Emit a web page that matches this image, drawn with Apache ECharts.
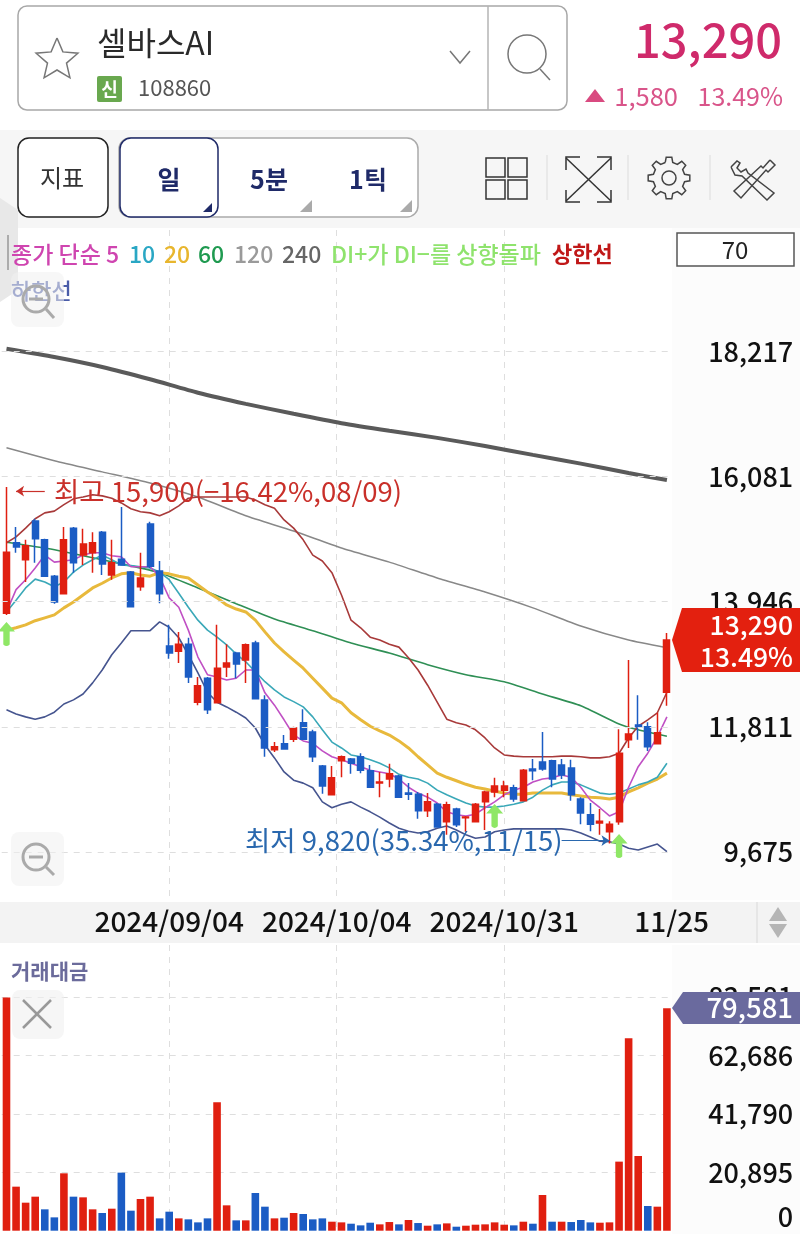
<!DOCTYPE html>
<html><head><meta charset="utf-8">
<style>html,body{margin:0;padding:0;background:#fff;overflow:hidden}#c{width:800px;height:1234px}</style>
<script src="https://cdn.jsdelivr.net/npm/echarts@6/dist/echarts.min.js"></script>
</head><body><div id="c"></div>
<script>
const candles = [ // open, close, low, high
[13750,14790,13720,15900],[14950,14880,14780,15220],[14660,14900,14280,15000],[15320,15020,14610,15360],[15000,14380,14380,15020],
[14380,13940,13910,14400],[14080,15000,14080,15220],[15200,14610,14440,15220],[14740,14930,14570,15190],[14780,14950,14440,15130],
[15130,14590,14400,15150],[14400,14610,14320,15000],[14670,14570,14570,15560],[14450,13860,13860,14470],[14200,14350,14130,14780],
[15270,14550,14520,15310],[14470,14080,13920,14640],[13190,13070,12970,13550],[13100,13220,12900,13430],[13220,12660,12560,13330],
[12230,12510,12180,12660],[12640,12100,12030,12660],[12220,12810,12220,13550],[12830,12900,12660,13220],[13070,12880,12640,13090],
[12950,13210,12560,13230],[13240,12290,12290,13280],[12270,11450,11300,12350],[11420,11470,11380,11550],[11520,11430,11430,11670],
[11600,11790,11550,11810],[11880,11600,11600,12110],[11720,11300,11210,11760],[11140,10800,10670,11160],[10650,10940,10650,11140],
[11230,11300,10950,11320],[11260,11190,11010,11280],[11300,11070,11020,11360],[11060,10780,10780,11160],[10850,10870,10610,11040],
[10920,11010,10780,11180],[10970,10610,10600,10990],[10680,10660,10560,10850],[10660,10380,10240,10700],[10380,10530,10270,10680],
[10490,10100,10100,10510],[10190,10480,9970,10530],[10410,10140,10100,10430],[10260,10270,10020,10290],[10190,10490,10190,10510],
[10530,10700,10050,10720],[10700,10800,10610,10940],[10730,10800,10610,10890],[10770,10580,10530,10820],[10550,11070,10550,11090],
[11090,11060,10900,11260],[11210,11090,11060,11720],[11230,10920,10780,11250],[11160,10990,10920,11260],[11110,10650,10550,11250],
[10580,10340,10150,10610],[10310,10150,10030,10510],[10170,10200,9970,10410],[10020,10150,9820,10200],[10190,11360,10140,11770],
[11590,11690,11450,12950],[11840,11810,11590,12350],[11810,11470,11400,11890],[11520,11710,11520,12050],[12400,13290,12170,13410]];
const ma5 = [13770,14150,14320,14520,14740,14620,14640,14660,14740,14780,14780,14730,14710,14540,14540,14540,14370,14010,13850,13460,13000,12700,12660,12610,12640,12780,12780,12390,12180,11930,11670,11570,11530,11400,11300,11250,11190,11130,11070,11040,11010,10920,10780,10680,10610,10510,10360,10310,10290,10320,10430,10530,10650,10730,10780,10870,10920,10940,10990,10950,10780,10560,10430,10290,10360,10780,11130,11360,11640,11980];
const ma10 = [13770,13970,14180,14330,14280,14200,14280,14450,14570,14660,14740,14660,14570,14560,14540,14520,14450,14320,14090,13850,13630,13460,13340,13210,13050,12920,12750,12580,12440,12320,12240,12150,11980,11760,11550,11450,11330,11300,11250,11190,11110,11000,10950,10920,10850,10730,10650,10580,10510,10460,10440,10440,10460,10490,10530,10610,10730,10820,10870,10870,10820,10750,10680,10660,10680,10750,10820,10870,10950,11190];
const ma20 = [13460,13500,13550,13620,13670,13720,13840,13940,14060,14180,14260,14350,14420,14440,14400,14380,14440,14420,14380,14350,14230,14110,14010,13890,13820,13770,13630,13430,13240,13090,12950,12810,12640,12470,12300,12220,12050,11930,11820,11740,11670,11570,11450,11300,11160,11020,10950,10890,10830,10780,10750,10710,10680,10660,10660,10680,10680,10680,10680,10650,10630,10610,10600,10580,10610,10700,10770,10850,10920,11020];
const ma60Idx = [0,4,8,12,16,20,24,28,32,36,40,44,48,52,56,60,64,66,69];
const ma60 = [14960,14860,14730,14590,14440,14180,13910,13650,13450,13240,13070,12870,12700,12580,12370,12170,11860,11760,11650];
const ma120Idx = [0,5,10,15,20,25,30,35,40,45,50,55,60,65,69];
const ma120 = [16570,16350,16160,15970,15730,15410,15150,14860,14620,14350,14110,13840,13530,13290,13160];
const ma240Idx = [0,5,10,15,20,25,30,35,40,45,50,55,60,65,69];
const ma240 = [18260,18120,17950,17740,17510,17320,17150,16990,16860,16740,16600,16450,16300,16140,16020];
const upperBand = [14950,15050,15200,15360,15460,15490,15600,15700,15730,15770,15750,15710,15630,15530,15480,15460,15410,15480,15580,15710,15730,15730,15730,15730,15730,15730,15680,15600,15540,15340,15200,15000,14740,14640,14440,14060,13630,13500,13340,13290,13220,13170,12990,12780,12520,12230,11940,11880,11840,11760,11620,11450,11330,11310,11300,11300,11300,11300,11310,11310,11300,11280,11280,11300,11360,11620,11820,11930,12050,12400];
const lowerBand = [12100,12030,11980,11940,11980,12060,12200,12270,12370,12560,12780,13040,13240,13450,13450,13450,13600,13510,13330,13040,12730,12400,12230,12150,12060,11960,11790,11500,11280,11040,10900,10850,10770,10530,10430,10490,10530,10440,10360,10270,10170,10080,10030,10000,10020,10080,10120,10050,9970,9910,9930,10020,10050,10070,10070,10070,10070,10070,10070,10050,10000,9930,9860,9850,9810,9740,9710,9760,9810,9680];
const volume = [83400,15750,10020,12170,7640,4770,20520,12170,11930,7640,6320,7870,20760,7160,11330,12170,4410,6800,4410,4060,2980,4410,45930,9070,3700,3700,13480,8590,4410,4650,6320,5970,4060,4410,3220,2980,2500,1910,2860,2270,3100,2270,3820,2740,1790,2270,2620,1430,1790,2150,2270,2980,2150,1910,3220,2500,12770,3220,3220,3100,3820,2980,2860,2980,24700,68840,26720,8830,8590,79581];
const volumeRose = [1,1,1,1,0,0,1,0,1,1,0,1,0,0,1,1,0,0,1,0,0,0,1,1,0,1,0,0,1,0,1,0,0,0,1,1,0,0,0,1,1,0,1,0,1,0,1,0,1,1,1,1,1,0,1,0,1,0,1,0,0,0,1,1,1,1,1,0,1,1];
const priceTicks = [9675,11811,13946,16081,18217];
const volumeTicks = [0,20895,41790,62686,83581];
const dateTicks = ['','2024/09/04','2024/10/04','2024/10/31','11/25'];
const signalIdx = [0,51,64];
const signalVal = [13394,10290,9777];

const UP='#e01f10', DOWN='#1b5cc4', F='"Noto Sans CJK KR","Noto Sans",sans-serif';
const cats = candles.map((_,i)=>String(i));
const pairs=(idx,v)=>idx.map((x,k)=>[x,v[k]]);
const fmt=v=>Number(v).toLocaleString('en-US');
const T=(x,y,text,size,fill,o={})=>({type:'text',x,y,z:o.z||60,silent:true,style:{text,fill,font:`${o.w||'normal'} ${size}px ${F}`,align:o.a||'left',verticalAlign:'middle'}});
const R=(x,y,w,h,o={})=>({type:'rect',z:o.z||60,silent:true,shape:{x,y,width:w,height:h,r:o.r||0},style:{fill:o.fill||'transparent',stroke:o.stroke||null,lineWidth:o.lw||1.5}});
const P=(pts,o={})=>({type:o.fill?'polygon':'polyline',z:o.z||60,silent:true,shape:{points:pts},style:{fill:o.fill||null,stroke:o.stroke||null,lineWidth:o.lw||1.5}});
const C=(cx,cy,r,o={})=>({type:'circle',z:o.z||60,silent:true,shape:{cx,cy,r},style:{fill:o.fill||'transparent',stroke:o.stroke||null,lineWidth:o.lw||1.5}});
const star=(cx,cy,r1,r2)=>{const a=[];for(let i=0;i<10;i++){const r=i%2?r2:r1,t=-Math.PI/2+i*Math.PI/5;a.push([cx+r*Math.cos(t),cy+r*Math.sin(t)]);}a.push(a[0]);return a;};
const gear=(cx,cy,r1,r2,n)=>{const a=[];for(let i=0;i<n;i++){const s=2*Math.PI/n,t=i*s-Math.PI/2;[[-.3,r2],[-.17,r1],[.17,r1],[.3,r2]].forEach(([d,r])=>a.push([cx+r*Math.cos(t+d*s),cy+r*Math.sin(t+d*s)]));}a.push(a[0]);return a;};

const graphics=[
 R(672,228,128,672,{fill:'#fcfcfc',z:-1}),
 R(672,945,128,289,{fill:'#fcfcfc',z:-1}),
 R(0,130,800,98,{fill:'#f6f6f6',z:-1}),
 R(0,902,800,41,{fill:'#f3f3f3',z:-1}),
 // search box
 R(18,6,549,104,{r:9,stroke:'#a8a8a8',fill:'#fff'}),
 P([[488,6],[488,110]],{stroke:'#b5b5b5'}),
 P(star(57,60,22,10),{stroke:'#777',lw:1.5}),
 T(97,43,'셀바스AI',32,'#2a2a2a'),
 R(97,76,25,26,{fill:'#69a84f',r:2}),
 T(109.5,89,'신',18,'#fff',{a:'center',w:'bold'}),
 T(138,88,'108860',22,'#555'),
 P([[450,51],[460,63],[470,51]],{stroke:'#777'}),
 C(527,54,19,{stroke:'#777'}),
 P([[540,69],[550,80]],{stroke:'#777'}),
 T(782,40,'13,290',47,'#cf2a6b',{a:'right',w:'500'}),
 P([[585,102],[595,89],[605,102],[585,102]],{fill:'#d94a80'}),
 T(678,96,'1,580',25.5,'#d9558a',{a:'right'}),
 T(783,96,'13.49%',25,'#d9558a',{a:'right'}),
 // toolbar
 R(18,138,90,79,{r:11,stroke:'#222',fill:'#fff'}),
 T(62,178,'지표',24,'#333',{a:'center'}),
 R(119,138,299,79,{r:11,stroke:'#aaa',fill:'#fff'}),
 R(120,138,98,79,{r:11,stroke:'#1f2a68',fill:'#fff'}),
 T(169,179,'일',25,'#1f2a68',{a:'center',w:'bold'}),
 T(269,179,'5분',25,'#1f2a68',{a:'center',w:'bold'}),
 T(368,179,'1틱',25,'#1f2a68',{a:'center',w:'bold'}),
 P([[212,203],[212,212],[203,212]],{fill:'#1f2a68'}),
 P([[312,200],[312,212],[300,212]],{fill:'#aaa'}),
 P([[412,200],[412,212],[400,212]],{fill:'#aaa'}),
 R(486,158,19,19,{stroke:'#333'}),R(508,158,19,19,{stroke:'#333'}),R(486,180,19,19,{stroke:'#333'}),R(508,180,19,19,{stroke:'#333'}),
 P([[547,155],[547,200]],{stroke:'#e4e4e4'}),P([[628,155],[628,200]],{stroke:'#e4e4e4'}),P([[710,155],[710,200]],{stroke:'#e4e4e4'}),
 P([[566,158],[611,201]],{stroke:'#333'}),P([[611,158],[566,201]],{stroke:'#333'}),
 P([[566,170],[566,157],[580,157]],{stroke:'#333'}),P([[597,157],[611,157],[611,170]],{stroke:'#333'}),
 P([[566,190],[566,202],[580,202]],{stroke:'#333'}),P([[597,202],[611,202],[611,190]],{stroke:'#333'}),
 P(gear(669,178,21,16,8),{stroke:'#444'}),C(669,178,7,{stroke:'#444'}),
 P([[731,167],[737,161],[740,163],[737,168],[741,172],[746,169],[748,173],[774,193],[767,200],[742,176],[735,175],[731,167]],{stroke:'#444'}),
 P([[770,160],[775,165],[768,172],[766,170],[741,198],[734,191],[761,166],[763,168],[770,160]],{stroke:'#444'}),
 // side handle
 P([[0,198],[18,210],[18,290],[0,302]],{fill:'#e8e8e8'}),
 P([[8,235],[8,270]],{stroke:'#999'}),
 // legend
 T(11,254,'종가 단순 5',23,'#cf45b0',{w:'500'}),
 T(129,254,'10',23,'#2aa7c4',{w:'500'}),
 T(164,254,'20',23,'#e8b62e',{w:'500'}),
 T(198,254,'60',23,'#1f9a50',{w:'500'}),
 T(234,254,'120',23,'#9a9a9a',{w:'500'}),
 T(282,254,'240',23,'#666',{w:'500'}),
 T(331,254,'DI+가 DI−를 상향돌파',23,'#8fe36d',{w:'500'}),
 T(552,254,'상한선',22,'#c01818',{w:'bold'}),
 T(11,291,'하한선',22,'#4a5ca8',{w:'500'}),
 R(677,233,117,33,{stroke:'#555',fill:'#fff'}),
 T(735,250,'70',24,'#222',{a:'center'}),
 // zoom controls
 R(11,272,53,55,{r:8,fill:'rgba(240,240,240,0.55)'}),
 C(36,299,13,{stroke:'#aaa',lw:3}),P([[46,309],[54,318]],{stroke:'#aaa',lw:3}),P([[29,299],[43,299]],{stroke:'#aaa',lw:3}),
 R(11,832,53,54,{r:8,fill:'rgba(240,240,240,0.55)'}),
 C(36,857,13,{stroke:'#aaa',lw:3}),P([[46,867],[54,875]],{stroke:'#aaa',lw:3}),P([[29,857],[43,857]],{stroke:'#aaa',lw:3}),
 // annotations
 T(54,492,'최고 15,900(−16.42%,08/09)',27.5,'#c9302a'),
 T(245,841,'최저 9,820(35.34%,11/15)',27.5,'#2a68ae'),
 // spinner
 P([[757,902],[757,943]],{stroke:'#e2e2e2'}),
 P([[769,921],[778,907],[787,921]],{fill:'#b5b5b5'}),
 P([[769,924],[787,924],[778,938]],{fill:'#b5b5b5'}),
 // panel labels
 T(11,971,'거래대금',21,'#6b6b9b',{w:'bold'}),
 R(12,990,52,49,{r:8,fill:'rgba(240,240,240,0.6)'}),
 P([[23,1000],[51,1028]],{stroke:'#999',lw:2.5}),P([[51,1000],[23,1028]],{stroke:'#999',lw:2.5}),
 // value tags
 P([[682,608],[800,608],[800,672],[682,672],[672,640]],{fill:'#e3200f'}),
 T(793,625,'13,290',26.5,'#fff',{a:'right',w:'500'}),
 T(793,657,'13.49%',26.5,'#fff',{a:'right',w:'500'}),
 P([[683,992],[800,992],[800,1024],[683,1024],[672,1008]],{fill:'#6a6a9e'}),
 T(793,1008,'79,581',27.5,'#fff',{a:'right',w:'500'})
];

const line=(name,data,color,width,z,extra={})=>Object.assign({name,type:'line',xAxisIndex:0,yAxisIndex:0,data,showSymbol:false,symbol:'none',connectNulls:true,animation:false,silent:true,z,lineStyle:{color,width}},extra);
const dashed={color:'#dedede',type:[6,6],width:1};

const option={
 animation:false,backgroundColor:'#fff',
 graphic:{elements:graphics},
 grid:[{left:1.7,top:230,width:670,height:670},{left:1.7,top:945,width:670,height:285.7}],
 xAxis:[
  {type:'category',gridIndex:0,data:cats,show:false,boundaryGap:true},
  {type:'value',gridIndex:0,min:0,max:4,interval:1,position:'bottom',axisLine:{show:false},axisTick:{show:false},
   splitLine:{show:true,showMinLine:false,showMaxLine:false,lineStyle:dashed},
   axisLabel:{show:true,margin:7,color:'#111',fontFamily:F,fontWeight:500,fontSize:28,showMinLabel:false,hideOverlap:false,formatter:v=>dateTicks[Math.round(v)]}},
  {type:'category',gridIndex:1,data:cats,show:false,boundaryGap:true},
  {type:'value',gridIndex:1,min:0,max:4,interval:1,position:'bottom',axisLine:{show:false},axisTick:{show:false},axisLabel:{show:false},
   splitLine:{show:true,showMinLine:false,showMaxLine:false,lineStyle:dashed}}
 ],
 yAxis:[
  {type:'value',gridIndex:0,position:'right',min:8856,max:20286,axisLine:{show:false},axisTick:{show:false},splitLine:{show:false},
   axisLabel:{customValues:priceTicks,align:'right',margin:121.5,color:'#111',fontFamily:F,fontWeight:500,fontSize:27,formatter:fmt}},
  {type:'value',gridIndex:1,position:'right',min:0,max:102170,interval:20895.25,axisLine:{show:false},axisTick:{show:false},
   splitLine:{show:true,showMinLine:false,showMaxLine:false,lineStyle:dashed},
   axisLabel:{customValues:volumeTicks,align:'right',margin:121.5,color:'#111',fontFamily:F,fontWeight:500,fontSize:27,verticalAlignMinLabel:'bottom',formatter:fmt}}
 ],
 series:[
  line('240',pairs(ma240Idx,ma240),'#5a5a5a',4,1,{smooth:.2,
    markLine:{silent:true,symbol:'none',animation:false,label:{show:false},lineStyle:dashed,data:priceTicks.map(v=>({yAxis:v}))}}),
  line('120',pairs(ma120Idx,ma120),'#888',1.5,2,{smooth:.2}),
  line('60',pairs(ma60Idx,ma60),'#2f8f55',1.6,2,{smooth:.2}),
  line('20',ma20,'#e8b93c',3,2),
  line('10',ma10,'#3aa8b8',1.6,2),
  line('5',ma5,'#c050c4',1.6,2),
  line('상한선',upperBand,'#a83a3a',1.6,2),
  line('하한선',lowerBand,'#46558f',1.6,2),
  {name:'캔들',type:'candlestick',xAxisIndex:0,yAxisIndex:0,data:candles,barWidth:6.4,silent:true,animation:false,z:3,
   itemStyle:{color:UP,color0:DOWN,borderColor:UP,borderColor0:DOWN,borderWidth:1.5},
   markLine:{silent:true,animation:false,label:{show:false},
     data:[
      [{coord:[4,15830],symbol:'none',lineStyle:{color:'#c9302a',width:1.2,type:'solid'}},{coord:[1,15830],symbol:'arrow',symbolSize:8}],
      [{coord:[58,9870],symbol:'none',lineStyle:{color:'#2a68ae',width:1.2,type:'solid'}},{coord:[63,9870],symbol:'arrow',symbolSize:8}]
     ]},
   markPoint:{silent:true,animation:false,symbol:'path://M8 0 L16 9 L11 9 L11 21 Q8 24 5 21 L5 9 L0 9 Z',symbolSize:[17,24],
     itemStyle:{color:'#8fe766'},label:{show:false},
     data:signalIdx.map((x,k)=>({coord:[x,signalVal[k]]}))}},
  {name:'거래대금',type:'bar',xAxisIndex:2,yAxisIndex:1,barWidth:7.6,silent:true,animation:false,z:3,
   data:volume.map((v,i)=>({value:v,itemStyle:{color:volumeRose[i]?UP:DOWN}}))}
 ]
};
const chart=echarts.init(document.getElementById('c'),null,{renderer:'canvas',width:800,height:1234});
chart.setOption(option);
</script></body></html>
